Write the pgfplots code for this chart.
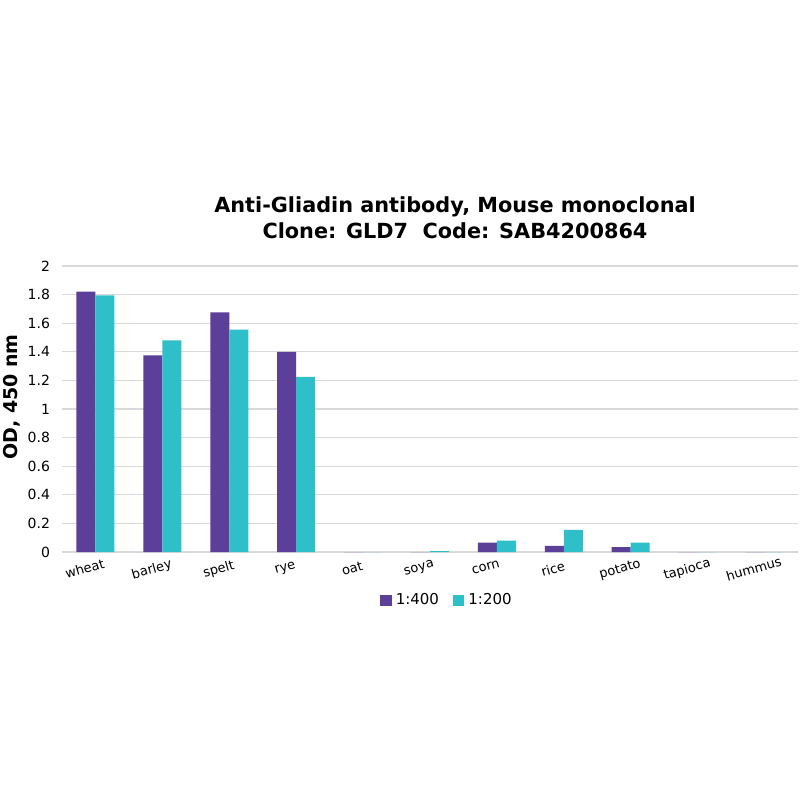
\documentclass[border=0pt]{standalone}
\usepackage{pgfplots}
\pgfplotsset{compat=1.18}
\usepackage{fontspec}
\setmainfont{DejaVu Sans}

\definecolor{dilA}{HTML}{5B3F99}
\definecolor{dilB}{HTML}{2EBFC9}
\definecolor{gridgray}{HTML}{D9D9D9}

\begin{document}
\begin{tikzpicture}
  % page is 800x800 px, 1 px = 0.5pt
  \path[use as bounding box] (0,0) rectangle (400pt,400pt);

  \node[font=\fontsize{10.4}{13}\selectfont\bfseries, align=center]
    at (227.5pt,291pt) {Anti-Gliadin antibody, Mouse monoclonal\\Clone: GLD7\ \ Code: SAB4200864};

  \begin{axis}[
      at={(31pt,124pt)}, anchor=south west,
      scale only axis,
      width=368pt, height=143pt,
      ybar=0pt, bar width=9.5pt,
      xmin=-0.5, xmax=10.5,
      ymin=0, ymax=2,
      ytick={0,0.2,...,2},
      xtick=data,
      xticklabels={wheat,barley,spelt,rye,oat,soya,corn,rice,potato,tapioca,hummus},
      x tick label style={font=\fontsize{6.5}{7.5}\selectfont, rotate=16, anchor=north,
        xshift=-7.5pt, yshift=-0.5pt},
      y tick label style={font=\fontsize{7}{8}\selectfont, xshift=-2.5pt},
      /pgf/number format/assume math mode=true,
      major tick length=0pt,
      axis line style={draw=none},
      ymajorgrids, grid style={gridgray, line width=0.6pt},
      ylabel={OD, 450 nm},
      ylabel style={font=\fontsize{9.5}{11}\selectfont\bfseries,
        at={(axis description cs:-0.0686,0.542)}, anchor=center},
      legend style={at={(0.5245,-0.17)}, anchor=center, draw=none,
        legend columns=2, font=\fontsize{7.5}{8.5}\selectfont,
        /tikz/every even column/.append style={column sep=5pt}},
      legend image code/.code={\fill[#1] (0cm,-0.1cm) rectangle (0.2cm,0.1cm);},
    ]
    \addplot[fill=dilA, draw=none] coordinates {
      (0,1.82) (1,1.375) (2,1.675) (3,1.40) (4,0) (5,0)
      (6,0.065) (7,0.042) (8,0.034) (9,0) (10,0)
    };
    \addplot[fill=dilB, draw=none] coordinates {
      (0,1.795) (1,1.48) (2,1.555) (3,1.225) (4,0) (5,0.006)
      (6,0.079) (7,0.154) (8,0.065) (9,0) (10,0)
    };
    \legend{1:400,1:200}
  \end{axis}
\end{tikzpicture}
\end{document}
